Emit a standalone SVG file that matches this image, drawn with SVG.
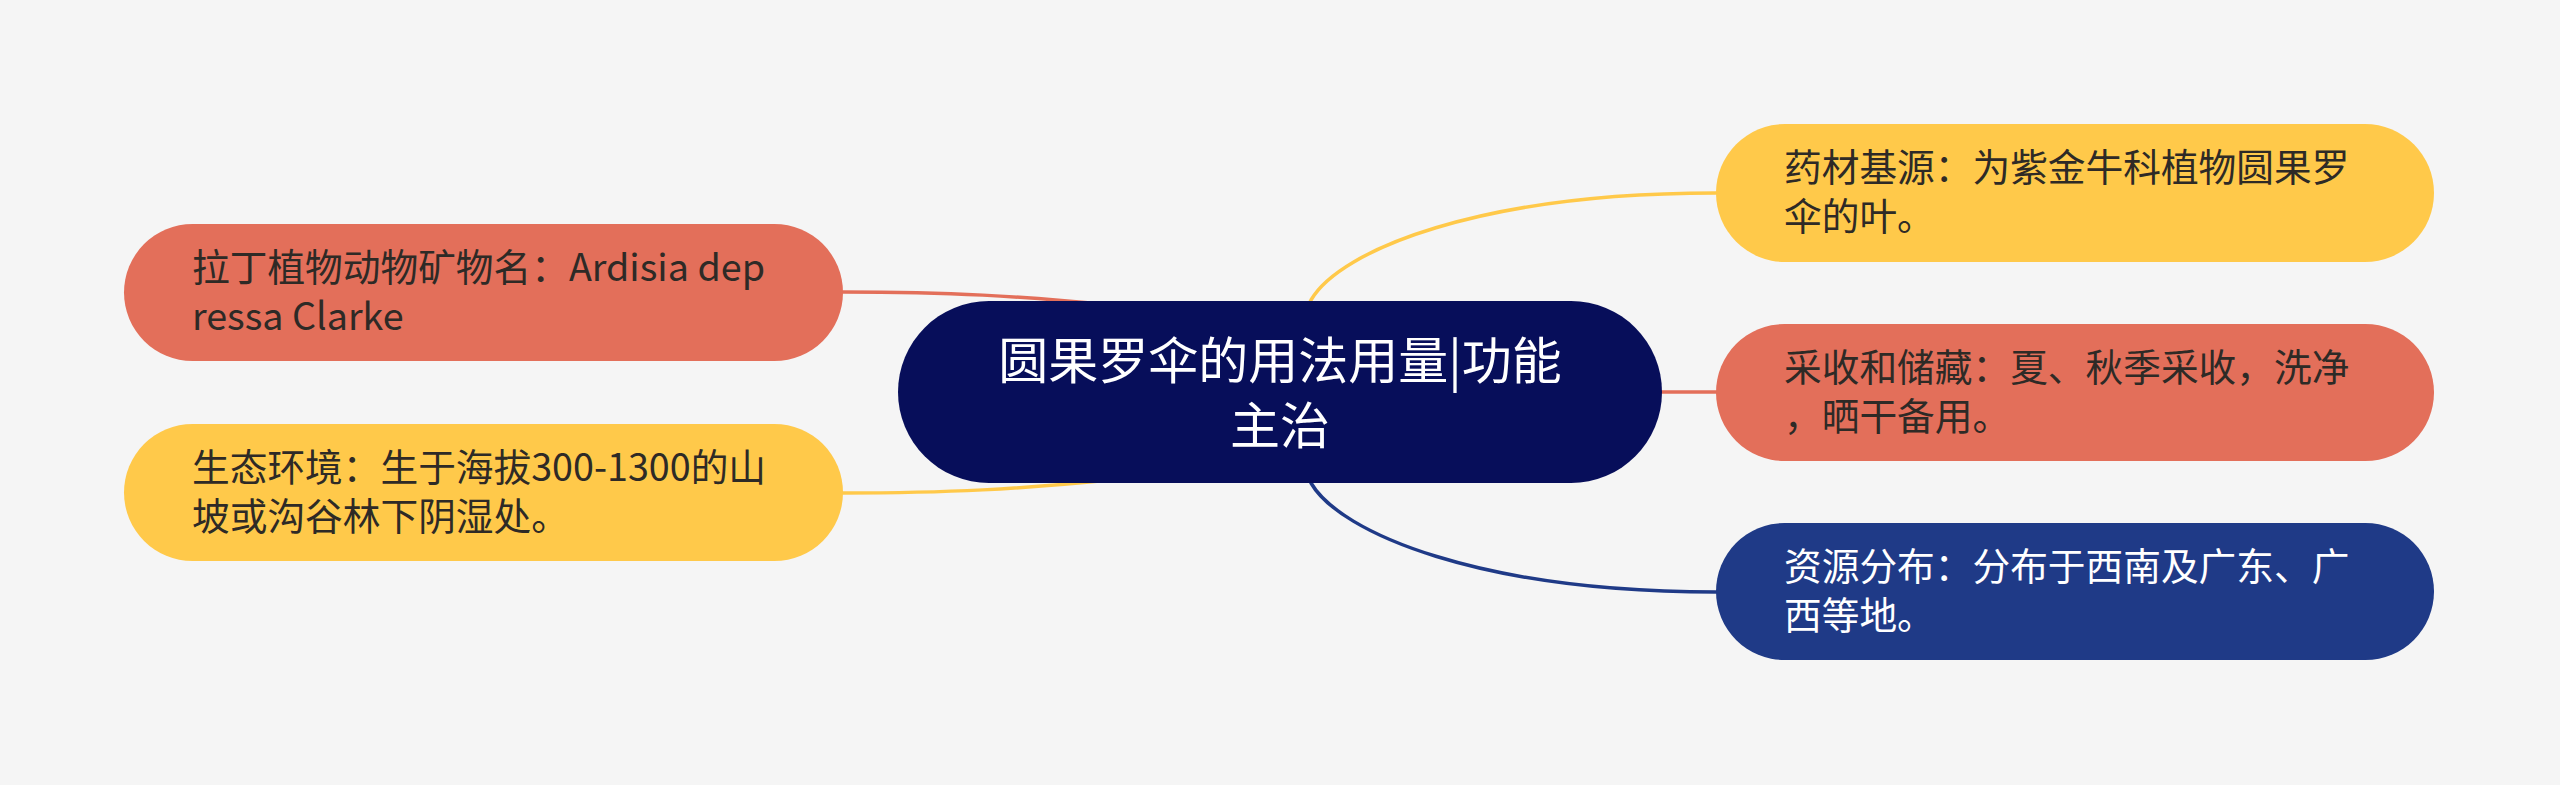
<svg xmlns="http://www.w3.org/2000/svg" width="2560" height="785" viewBox="0 0 2560 785">
<style>
.t{font-family:"Noto Sans CJK SC","Noto Sans",sans-serif;font-size:37.7px}
.m{font-size:50px}
.dk{fill:#2e2a26}
.wh{fill:#ffffff}
.c{fill:none;stroke-linecap:round}
</style>
<rect x="0" y="0" width="2560" height="785" fill="#f5f5f5"/>
<g id="connectors">
<path class="c" d="M843,292 C950,292 1020,296 1110,305" stroke="#e36f5a" stroke-width="3.5"/>
<path class="c" d="M843,493 C950,493 1020,489 1110,480" stroke="#ffc94a" stroke-width="3.5"/>
<path class="c" d="M1300,320 L1311,300 C1340,250 1480,193 1716,193" stroke="#ffc94a" stroke-width="3.5"/>
<path class="c" d="M1640,392 L1716,392" stroke="#e36f5a" stroke-width="3.5"/>
<path class="c" d="M1300,463 L1311,483 C1340,533 1480,592 1716,592" stroke="#1f3a87" stroke-width="3.5"/>
</g>
<g id="center">
<rect x="898" y="301" width="764" height="182" rx="91" ry="91" fill="#070e5a"/>
<text class="t m wh" x="1280" y="379" text-anchor="middle">圆果罗伞的用法用量|功能</text>
<text class="t m wh" x="1280" y="444" text-anchor="middle">主治</text>
</g>
<g id="n-latin">
<rect x="124" y="224" width="719" height="137" rx="68.5" ry="68.5" fill="#e36f5a"/>
<text class="t dk" x="192" y="281">拉丁植物动物矿物名：Ardisia dep</text>
<text class="t dk" x="192" y="330">ressa Clarke</text>
</g>
<g id="n-eco">
<rect x="124" y="424" width="719" height="137" rx="68.5" ry="68.5" fill="#ffc94a"/>
<text class="t dk" x="192" y="481">生态环境：生于海拔300-1300的山</text>
<text class="t dk" x="192" y="530">坡或沟谷林下阴湿处。</text>
</g>
<g id="n-source">
<rect x="1716" y="124" width="718" height="138" rx="69" ry="69" fill="#ffc94a"/>
<text class="t dk" x="1784" y="181">药材基源：为紫金牛科植物圆果罗</text>
<text class="t dk" x="1784" y="230">伞的叶。</text>
</g>
<g id="n-harvest">
<rect x="1716" y="324" width="718" height="137" rx="68.5" ry="68.5" fill="#e36f5a"/>
<text class="t dk" x="1784" y="381">采收和储藏：夏、秋季采收，洗净</text>
<text class="t dk" x="1784" y="430">，晒干备用。</text>
</g>
<g id="n-dist">
<rect x="1716" y="523" width="718" height="137" rx="68.5" ry="68.5" fill="#1f3a87"/>
<text class="t wh" x="1784" y="580">资源分布：分布于西南及广东、广</text>
<text class="t wh" x="1784" y="629">西等地。</text>
</g>
</svg>
